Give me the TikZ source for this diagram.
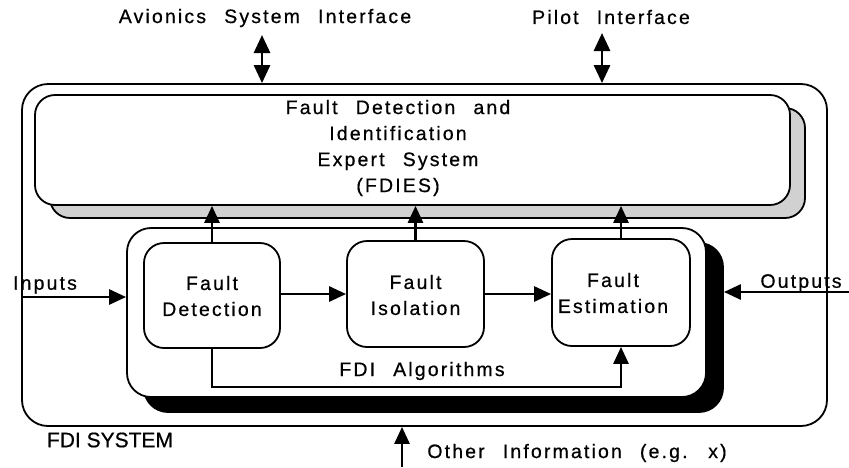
\documentclass[tikz,border=0pt]{standalone}
\usepackage{fontspec}
\setmainfont{Liberation Sans}[LetterSpace=11,WordSpace=2.4,FakeBold=0.6]
\newfontfamily\tightfont{Liberation Sans}[FakeBold=0.6]
\usetikzlibrary{arrows.meta}
\begin{document}
\begin{tikzpicture}[x=1pt,y=-1pt,
  bx/.style={draw=black,line width=1.8pt,rounded corners=#1,fill=white,inner sep=0pt},
  bx/.default=20pt,
  lbl/.style={font=\fontsize{19.5}{26}\selectfont,inner sep=0pt,align=center},
  arr/.style={line width=2.8pt,-{Triangle[length=17pt,width=15pt]}},
  darr/.style={line width=2.8pt,{Triangle[length=18pt,width=16pt]}-{Triangle[length=18pt,width=16pt]}}
]
\useasboundingbox (0,0) rectangle (849,467);
% outer system box
\node[bx=26pt,fill=none,minimum width=805pt,minimum height=342pt] (outer) at (424.5,255) {};
% FDIES with shadow
\node[bx=20pt,fill=black!18,minimum width=755pt,minimum height=110pt] (fdsh) at (427.5,163) {};
\node[bx=20pt,minimum width=755pt,minimum height=110pt] (fdies) at (412.5,150) {};
\node[lbl] (fdiestxt) at (398,148) {Fault Detection and\\Identification\\Expert System\\(FDIES)};
% algorithms box with black shadow
\node[bx=24pt,fill=black,minimum width=579pt,minimum height=169pt] (algsh) at (433.5,327.5) {};
\node[bx=24pt,minimum width=579pt,minimum height=169pt] (alg) at (416.5,312.5) {};
% inner boxes
\node[bx=20pt,minimum width=136pt,minimum height=105pt] (fd) at (212,295.5) {};
\node[bx=20pt,minimum width=137pt,minimum height=106pt] (fi) at (415.5,294) {};
\node[bx=20pt,minimum width=138pt,minimum height=107pt] (fe) at (621,292.5) {};
\node[lbl] (fdt) at (212,296) {Fault\\Detection};
\node[lbl] (fit) at (415.5,295) {Fault\\Isolation};
\node[lbl] (fet) at (613,293) {Fault\\Estimation};
\node[lbl] (algt) at (422,371) {FDI Algorithms};
% labels
\node[lbl] (avt) at (265,18) {Avionics System Interface};
\node[lbl] (pit) at (611,17) {Pilot Interface};
\node[lbl] (int) at (45,285) {Inputs};
\node[lbl] (outt) at (801,283) {Outputs};
\node[lbl,font=\tightfont\fontsize{21}{24}\selectfont] (syst) at (110,440) {FDI SYSTEM};
\node[lbl] (oit) at (577,453) {Other Information (e.g. x)};
% coordinates for free ends
\coordinate (av) at (262,35);
\coordinate (pi) at (602,33);
\coordinate (inl) at (22,297);
\coordinate (outr) at (849,292);
\coordinate (oi) at (402,467);
\coordinate (fb) at (0,387);
% connectors
\draw[darr] (av) -- (av |- outer.north);
\draw[darr] (pi) -- (pi |- outer.north);
\draw[arr] (fd.north) -- (fd.north |- fdies.south);
\draw[arr] (fi.north) -- (fi.north |- fdies.south);
\draw[arr] (fe.north) -- (fe.north |- fdies.south);
\draw[arr] (fd.east |- fi.west) -- (fi.west);
\draw[arr] (fi.east) -- (fi.east -| fe.west);
\draw[arr] (fd.south) -- (fd.south |- fb) -| (fe.south);
\draw[arr] (inl) -- (inl -| alg.west);
\draw[arr] (outr) -- (outr -| algsh.east);
\draw[arr] (oi) -- (oi |- outer.south);
\end{tikzpicture}
\end{document}
